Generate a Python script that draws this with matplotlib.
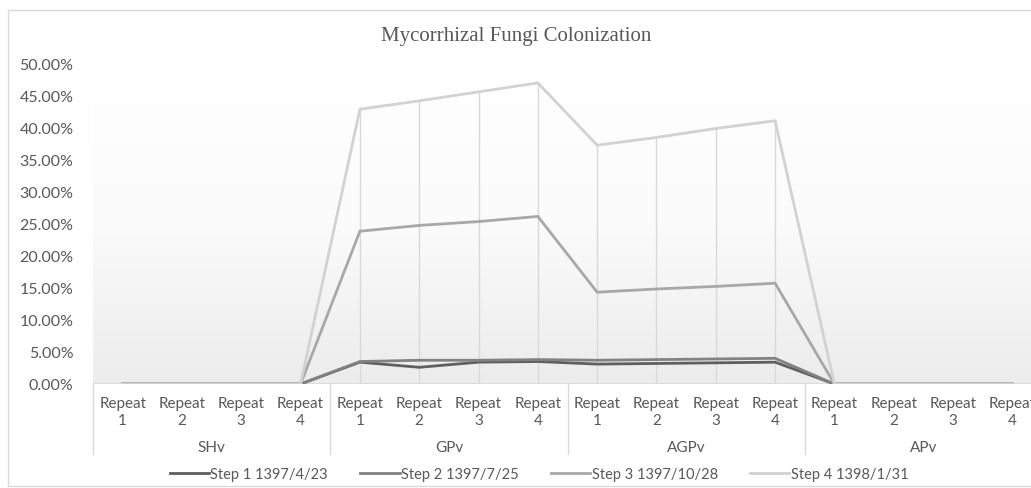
import numpy as np
import matplotlib
matplotlib.use("Agg")
from matplotlib import pyplot as plt
from matplotlib.patches import Rectangle

groups = ["SHv", "GPv", "AGPv", "APv"]
repeats = ["Repeat\n1", "Repeat\n2", "Repeat\n3", "Repeat\n4"]
series_names = ["Step 1 1397/4/23", "Step 2 1397/7/25", "Step 3 1397/10/28", "Step 4 1398/1/31"]

# colonization (fraction), 4 repeats per treatment: SHv, GPv, AGPv, APv
step1 = [0, 0, 0, 0, 0.034, 0.026, 0.034, 0.035, 0.031, 0.032, 0.033, 0.034, 0, 0, 0, 0]
step2 = [0, 0, 0, 0, 0.035, 0.037, 0.037, 0.038, 0.037, 0.038, 0.039, 0.040, 0, 0, 0, 0]
step3 = [0, 0, 0, 0, 0.238, 0.247, 0.253, 0.261, 0.143, 0.148, 0.152, 0.157, 0, 0, 0, 0]
step4 = [0, 0, 0, 0, 0.428, 0.441, 0.455, 0.469, 0.372, 0.384, 0.398, 0.410, 0, 0, 0, 0]

colors = ["#5f5f5f", "#828282", "#a8a8a8", "#d2d2d2"]
txt = "#595959"
font = "Lato"

W, H = 1031, 489
fig = plt.figure(figsize=(W / 100, H / 100), dpi=100)
fig.patch.set_facecolor("white")

# chart border
fig.patches.append(Rectangle((8 / W, 2 / H), 1.2, (H - 13) / H, transform=fig.transFigure,
                             fill=False, edgecolor="#d9d9d9", linewidth=1))

left, right, top, bottom = 93, 1042, 64, 385
ax = fig.add_axes([left / W, (H - bottom) / H, (right - left) / W, (bottom - top) / H])

x = np.arange(len(step1))
all_series = [step1, step2, step3, step4]

# gradient background
grad = np.linspace(0, 1, 256).reshape(-1, 1)
cmap = matplotlib.colors.LinearSegmentedColormap.from_list("g", ["#ffffff", "#fbfbfb", "#ececec"])
ax.imshow(grad, extent=[0, 1, 0, 1], transform=ax.transAxes, cmap=cmap, aspect="auto", zorder=0)

# drop lines
ax.vlines(x, 0, np.max(all_series, axis=0), color="#d9d9d9", linewidth=1.0, zorder=1)

for s, c, n in zip(all_series, colors, series_names):
    ax.plot(x, s, color=c, linewidth=2.0, label=n, zorder=2, solid_joinstyle="miter")

ax.set_xlim(-0.5, 15.5)
ax.set_ylim(0, 0.5)
for sp in ax.spines.values():
    sp.set_visible(False)
ax.axhline(0, color="#d9d9d9", linewidth=1.2, zorder=1)

ax.set_yticks(np.arange(0, 0.51, 0.05))
ax.set_yticklabels([f"{v * 100:.2f}%" for v in np.arange(0, 0.51, 0.05)],
                   fontsize=11.5, color=txt, family=font)
ax.tick_params(axis="y", length=0, pad=14)

ax.set_xticks(x)
ax.set_xticklabels(repeats * 4, fontsize=11, color=txt, family=font, linespacing=1.2)
ax.tick_params(axis="x", length=0, pad=9)

# group separators and labels
sep_depth = -70 / (bottom - top)
for b in [-0.5, 3.5, 7.5, 11.5, 15.5]:
    ax.plot([b, b], [0, sep_depth], transform=ax.get_xaxis_transform(), color="#d9d9d9",
            linewidth=1, clip_on=False)
for i, g in enumerate(groups):
    ax.text(i * 4 + 1.5, -63 / (bottom - top), g, transform=ax.get_xaxis_transform(),
            ha="center", va="center", fontsize=11, color=txt, family=font)

fig.text(516 / W, 1 - 37 / H, "Mycorrhizal Fungi Colonization", ha="center", va="center",
         fontsize=15, color=txt, family="Liberation Serif")

leg = fig.legend(loc="center", bbox_to_anchor=(539 / W, 1 - 475 / H), ncol=4, frameon=False,
                 prop={"family": font, "size": 10.5}, handlelength=2.7, handletextpad=0.1,
                 columnspacing=2.2)
for t in leg.get_texts():
    t.set_color(txt)

plt.savefig("out.png", dpi=100)
